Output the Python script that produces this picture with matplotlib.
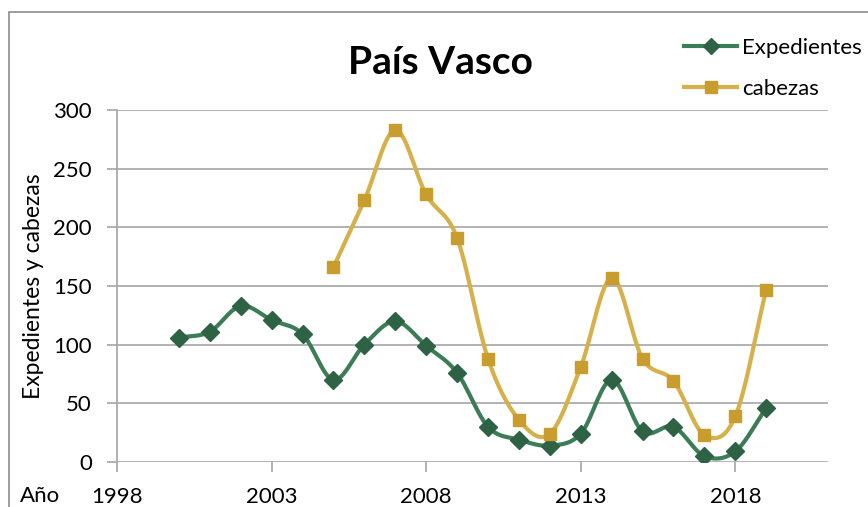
import numpy as np
import matplotlib.pyplot as plt
from matplotlib.patches import Rectangle
from matplotlib.lines import Line2D

plt.rcParams['font.family'] = ['Lato', 'DejaVu Sans']

years_exp = [2000, 2001, 2002, 2003, 2004, 2005, 2006, 2007, 2008, 2009,
             2010, 2011, 2012, 2013, 2014, 2015, 2016, 2017, 2018, 2019]
expedientes = [106, 111, 133, 121, 109, 70, 100, 120, 99, 76,
               30, 19, 14, 24, 70, 26, 30, 5, 9, 46]
years_cab = [2005, 2006, 2007, 2008, 2009, 2010, 2011, 2012, 2013, 2014,
             2015, 2016, 2017, 2018, 2019]
cabezas = [166, 223, 283, 228, 191, 88, 36, 24, 81, 157,
           88, 69, 23, 39, 147]
xticks = [1998, 2003, 2008, 2013, 2018]
yticks = [0, 50, 100, 150, 200, 250, 300]

green_line = '#3C7D57'
green_mark = '#2D6344'
gold_line = '#D6B04A'
gold_mark = '#C89D2D'


def smooth(x, y, n=20):
    # catmull-rom curve through the points, like excel's smoothed line
    x = np.asarray(x, float)
    y = np.asarray(y, float)
    px = np.concatenate([[2 * x[0] - x[1]], x, [2 * x[-1] - x[-2]]])
    py = np.concatenate([[2 * y[0] - y[1]], y, [2 * y[-1] - y[-2]]])
    xs, ys = [], []
    t = np.linspace(0, 1, n, endpoint=False)
    for i in range(1, len(px) - 2):
        for p, out in ((px, xs), (py, ys)):
            p0, p1, p2, p3 = p[i - 1], p[i], p[i + 1], p[i + 2]
            out.extend(0.5 * (2 * p1 + (-p0 + p2) * t
                              + (2 * p0 - 5 * p1 + 4 * p2 - p3) * t ** 2
                              + (-p0 + 3 * p1 - 3 * p2 + p3) * t ** 3))
    xs.append(x[-1])
    ys.append(y[-1])
    return np.array(xs), np.array(ys)


fig = plt.figure(figsize=(8.68, 5.07), dpi=100)
ax = fig.add_axes([0.1348, 0.0888, 0.954 - 0.1348, 0.783 - 0.0888])

fig.patches.append(Rectangle((9 / 868, -0.05), 1.1, 1 - 12 / 507 + 0.05,
                             transform=fig.transFigure, fill=False,
                             edgecolor='#8C8C8C', linewidth=1.2))

sx, sy = smooth(years_exp, expedientes)
ax.plot(sx, sy, color=green_line, linewidth=3.0, zorder=3)
ax.plot(years_exp, expedientes, linestyle='none', marker='D', markersize=9,
        color=green_mark, zorder=4)

sx, sy = smooth(years_cab, cabezas)
ax.plot(sx, sy, color=gold_line, linewidth=3.0, zorder=3)
ax.plot(years_cab, cabezas, linestyle='none', marker='s', markersize=9,
        color=gold_mark, zorder=4)

ax.set_xlim(1998, 2021)
ax.set_ylim(0, 300)
ax.set_xticks(xticks)
ax.set_yticks(yticks)
ax.grid(axis='y', color='#A6A6A6', linewidth=1.2)
ax.set_axisbelow(True)
for s in ['top', 'right', 'bottom']:
    ax.spines[s].set_visible(False)
ax.spines['left'].set_color('#A6A6A6')
ax.spines['left'].set_linewidth(1.2)
ax.tick_params(axis='y', length=7, color='#A6A6A6', width=1.2, labelsize=16, pad=11)
ax.tick_params(axis='x', length=7, color='#A6A6A6', width=1.2, labelsize=16, pad=11)

ax.set_ylabel('Expedientes y cabezas', fontsize=16.5)
ax.yaxis.set_label_coords(-0.102, 0.5)
fig.text(20 / 868, 1 - 496 / 507, 'Año', fontsize=16, va='center', ha='left')
fig.text(440 / 868, 1 - 62 / 507, 'País Vasco', fontsize=28, fontweight='bold',
         ha='center', va='center')

handles = [
    Line2D([], [], color=green_line, linewidth=3.0, marker='D', markersize=8,
           markerfacecolor=green_mark, markeredgecolor=green_mark),
    Line2D([], [], color=gold_line, linewidth=3.0, marker='s', markersize=8,
           markerfacecolor=gold_mark, markeredgecolor=gold_mark),
]
fig.legend(handles, ['Expedientes', 'cabezas'], loc='upper left',
           bbox_to_anchor=(684 / 868, 1 - 38 / 507), frameon=False,
           fontsize=16, handlelength=2.4, handletextpad=0.2, labelspacing=0.95,
           borderpad=0, borderaxespad=0)

fig.savefig('out.png', dpi=100)
